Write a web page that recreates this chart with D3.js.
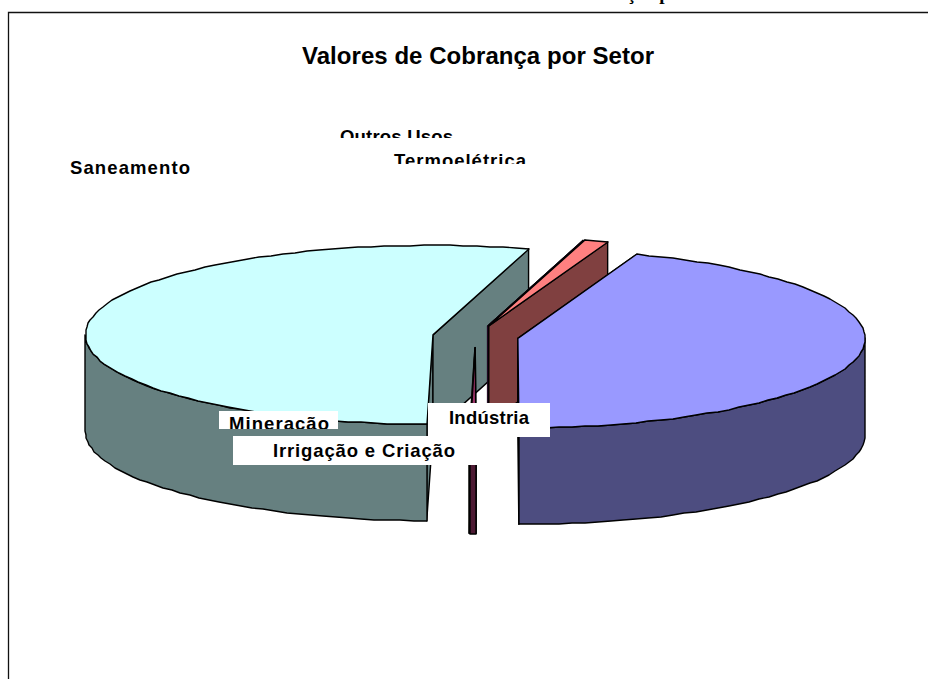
<!DOCTYPE html>
<html>
<head>
<meta charset="utf-8">
<script src="https://cdnjs.cloudflare.com/ajax/libs/d3/7.8.5/d3.min.js"></script>
<style>
html,body{margin:0;padding:0;background:#fff;overflow:hidden}
svg{display:block}
text{font-family:"Liberation Sans",Arial,sans-serif;font-weight:bold;fill:#000}
</style>
</head>
<body>
<svg id="c" width="928" height="679"></svg>
<script>
// ---- data ----
const categories = ["Indústria","Irrigação e Criação","Mineração","Saneamento","Outros Usos","Termoelétrica"];
const shares     = [44.4, 0.3, 0.03, 54.15, 0.02, 1.1];
const percentLabels = ["44%","0%","0%","54%","0%","1%"];
const colors     = ["#9999FF","#993366","#FFFFCC","#CCFFFF","#660066","#FF8080"];
const titleText  = "Valores de Cobrança por Setor";

// ---- layout (not data) ----
const W = 928, H = 679;
const cx = 475.5, cy = 336.5, rx = 347.5, ry = 89.5, depth = 96.5, explode = 43;
const firstAngle = 20 * Math.PI / 180;
const labelLayout = {
  "Saneamento":          {x:70,  w:120, y:174, clip:null},
  "Outros Usos":         {x:340, w:113, y:143, clip:[330,120,140,18]},
  "Termoelétrica":       {x:394, w:132, y:167, clip:[385,145,150,19]},
  "Mineração":           {x:229, w:100, y:430, box:[219,411,119,18], clip:[219,411,119,18]},
  "Indústria":           {x:449, w:80,  y:424, box:[428,403,122,34], clip:[428,403,122,33], pct:true},
  "Irrigação e Criação": {x:273, w:182, y:457, box:[233,436,262,29], clip:[233,436,262,29]}
};

const svg = d3.select("#c");
const defs = svg.append("defs");

const pie = d3.pie().sort(null).value(d => d)
  .startAngle(firstAngle).endAngle(firstAngle + 2 * Math.PI);
const arcs = pie(shares).map((a, i) => ({...a, name: categories[i], color: colors[i]}));

// unit circle -> screen
const sx = d3.scaleLinear().domain([-1, 1]).range([cx - rx, cx + rx]);
const sy = d3.scaleLinear().domain([-1, 1]).range([cy - ry, cy + ry]);

const line = d3.line();
function offsetOf(a){
  const m = (a.startAngle + a.endAngle) / 2;
  return [explode * Math.sin(m), -explode * (ry / rx) * Math.cos(m)];
}
function rimPoint(a, t, dz){
  const [ox, oy] = offsetOf(a);
  return [sx(Math.sin(t)) + ox, sy(-Math.cos(t)) + oy + (dz || 0)];
}
function apex(a, dz){
  const [ox, oy] = offsetOf(a);
  return [sx(0) + ox, sy(0) + oy + (dz || 0)];
}
function rim(a, t0, t1, dz){
  const n = Math.max(1, Math.ceil(Math.abs(t1 - t0) / (2.2 * Math.PI / 180)));
  return d3.range(n + 1).map(i => {
    const p = rimPoint(a, t0 + (t1 - t0) * i / n, dz);
    return [Math.round(p[0]), Math.round(p[1])];
  });
}
function dark(c){
  const k = d3.rgb(c);
  return d3.rgb(k.r * 0.5, k.g * 0.5, k.b * 0.5).formatHex();
}

// painter's order: back slices first
const order = ["Saneamento","Outros Usos","Termoelétrica","Mineração","Irrigação e Criação","Indústria"];
const g = svg.append("g").attr("stroke","#000").attr("stroke-width",1.4).attr("stroke-linejoin","round");

order.forEach(name => {
  const a = arcs.find(d => d.name === name);
  const wall = dark(a.color);
  const s = g.append("g");
  if (a.value < 0.1) s.attr("stroke-width", 0.4);
  [a.startAngle, a.endAngle].forEach(t => {
    s.append("path").attr("fill", wall).attr("d", line([
      apex(a), rimPoint(a, t), rimPoint(a, t, depth), apex(a, depth)
    ]) + "Z");
  });
  // the outer wall is only visible on the front half of the ellipse
  const lo = Math.max(a.startAngle, Math.PI / 2), hi = Math.min(a.endAngle, 3 * Math.PI / 2);
  if (hi > lo) {
    const upper = rim(a, lo, hi, 0), lower = rim(a, hi, lo, depth);
    s.append("path").attr("fill", wall).attr("d", line(upper.concat(lower)) + "Z");
  }
  const top = [apex(a)].concat(rim(a, a.startAngle, a.endAngle, 0));
  s.append("path").attr("fill", a.color).attr("d", line(top) + "Z");
});

// frame
svg.append("path").attr("fill","none").attr("stroke","#111").attr("stroke-width",1.3)
  .attr("d", line([[8.5,H],[8.5,12.5],[W,12.5]]));

// title and stray text cut off by the page top
svg.append("text").attr("x",302).attr("y",64).attr("font-size",24)
  .attr("textLength",352).attr("lengthAdjust","spacing").text(titleText);
svg.append("text").attr("x",627).attr("y",0).attr("font-size",19)
  .style("font-family","'Liberation Serif',serif").text("ção por");

// labels, each with its white box and its clipping window
const labelOrder = ["Saneamento","Outros Usos","Termoelétrica","Indústria","Mineração","Irrigação e Criação"];
labelOrder.forEach((name, i) => {
  const L = labelLayout[name];
  if (L.box) svg.append("rect").attr("x",L.box[0]).attr("y",L.box[1]).attr("width",L.box[2]).attr("height",L.box[3]).attr("fill","#fff");
  const t = svg.append("g");
  if (L.clip) {
    const id = "clip" + i;
    defs.append("clipPath").attr("id",id).append("rect")
      .attr("x",L.clip[0]).attr("y",L.clip[1]).attr("width",L.clip[2]).attr("height",L.clip[3]);
    t.attr("clip-path",`url(#${id})`);
  }
  t.append("text").attr("x",L.x).attr("y",L.y).attr("font-size",18.5)
    .attr("textLength",L.w).attr("lengthAdjust","spacing").text(name);
  if (L.pct) {
    t.append("text").attr("x",L.x + L.w / 2).attr("y",L.y + 25).attr("font-size",18.5)
      .attr("text-anchor","middle").attr("letter-spacing",1)
      .text(percentLabels[categories.indexOf(name)]);
  }
});
</script>
</body>
</html>
